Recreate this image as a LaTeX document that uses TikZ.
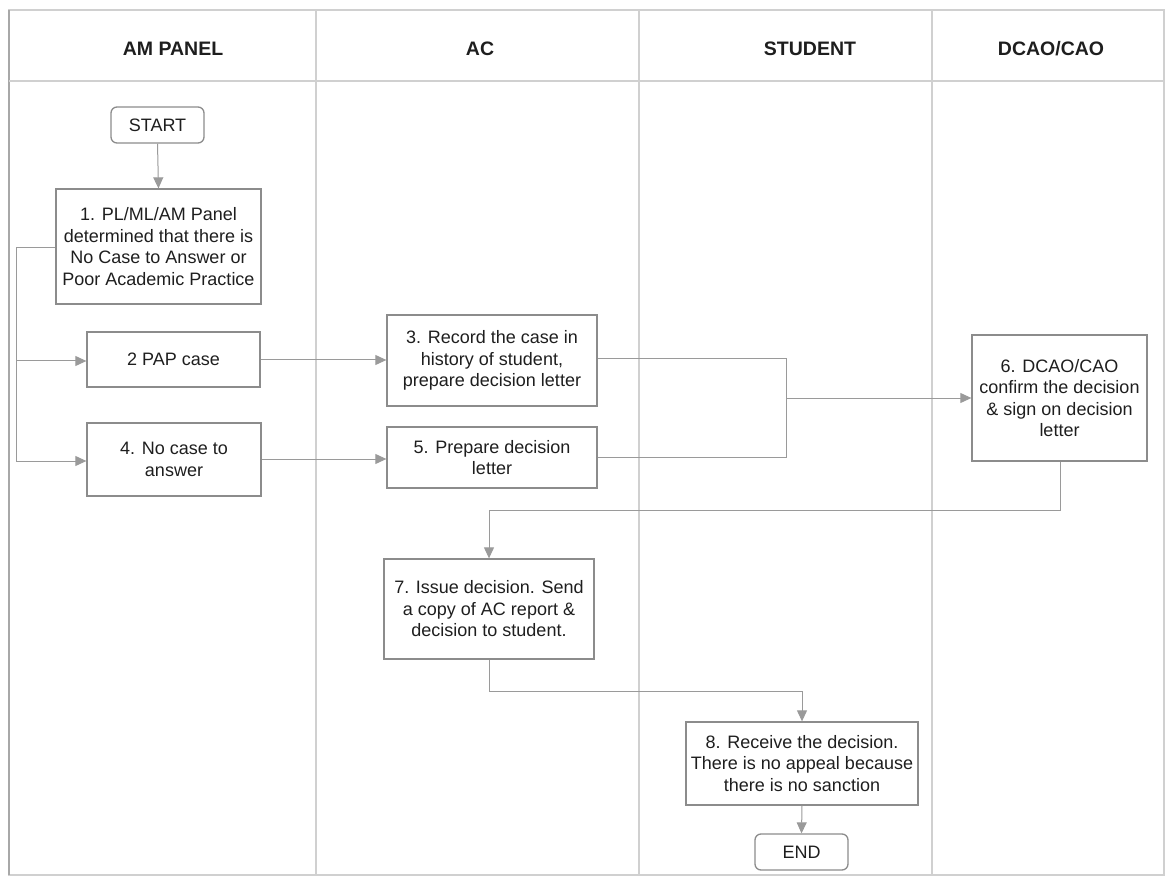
\documentclass[tikz,border=0pt]{standalone}
\usepackage{fontspec}
\setmainfont{Liberation Sans}
\usetikzlibrary{arrows.meta}
\definecolor{boxline}{HTML}{8C8C8C}
\definecolor{conn}{HTML}{9A9A9A}
\definecolor{lane}{HTML}{D0D0D0}
\definecolor{frame}{HTML}{A8A8A8}
\definecolor{ink}{HTML}{1E1E1E}
\tikzset{
  every node/.style={text=ink},
  procbox/.style={draw=boxline, line width=1.3pt, rectangle, inner sep=0pt, align=center,
    font=\fontsize{18}{21.5}\selectfont},
  termbox/.style={procbox, rounded corners=6pt},
  hdr/.style={font=\fontsize{19.5}{22}\selectfont\bfseries},
  flow/.style={draw=conn, line width=1pt, -{Triangle[length=11pt,width=10pt]}},
  plain/.style={draw=conn, line width=1pt},
  lanestyle/.style={draw=lane, line width=1.2pt}
}
\begin{document}
\begin{tikzpicture}[x=1pt,y=-1pt]
\useasboundingbox (0,0) rectangle (1165,877);
% swimlane frame
\draw[lanestyle] (9,10) rectangle (1164,875);
\draw[draw=frame, line width=1.5pt] (9,10) -- (9,875);
\draw[lanestyle] (9,81) -- (1164,81);
\draw[lanestyle] (316,10) -- (316,875);
\draw[lanestyle] (639,10) -- (639,875);
\draw[lanestyle] (932,10) -- (932,875);
% headers
\node[hdr] (h1) at (173,49) {AM PANEL};
\node[hdr] (h2) at (480,49) {AC};
\node[hdr] (h3) at (810,49) {STUDENT};
\node[hdr] (h4) at (1051,49) {DCAO/CAO};
% nodes
\node[termbox, minimum width=93pt, minimum height=36pt] (start) at (157.5,125) {START};
\node[procbox, minimum width=205pt, minimum height=115pt] (n1) at (158.5,246.5)
  {1. PL/ML/AM Panel\\determined that there is\\No Case to Answer or\\Poor Academic Practice};
\node[procbox, minimum width=173pt, minimum height=55pt] (n2) at (173.5,359.5) {2 PAP case};
\node[procbox, minimum width=174pt, minimum height=73pt] (n4) at (174,459.5) {4. No case to\\answer};
\node[procbox, minimum width=210pt, minimum height=91pt] (n3) at (492,360.5)
  {3. Record the case in\\history of student,\\prepare decision letter};
\node[procbox, minimum width=210pt, minimum height=61pt] (n5) at (492,457.5) {5. Prepare decision\\letter};
\node[procbox, minimum width=175pt, minimum height=126pt] (n6) at (1059.5,398)
  {6. DCAO/CAO\\confirm the decision\\\& sign on decision\\letter};
\node[procbox, minimum width=210pt, minimum height=100pt] (n7) at (489,609)
  {7. Issue decision. Send\\a copy of AC report \&\\decision to student.};
\node[procbox, minimum width=232pt, minimum height=83pt] (n8) at (802,763.5)
  {8. Receive the decision.\\There is no appeal because\\there is no sanction};
\node[termbox, minimum width=93pt, minimum height=36pt] (end) at (801.5,852) {END};
% junction coordinates
\coordinate (busTop) at (16,248);
\coordinate (busMid) at (16,361);
\coordinate (busBot) at (16,461);
\coordinate (j3) at (786,359);
\coordinate (j5) at (786,457);
\coordinate (jm) at (786,398);
\coordinate (k6) at (1060,510);
\coordinate (k7) at (489,510);
\coordinate (m7) at (489,691);
\coordinate (m8) at (802,691);
% connectors
\draw[flow] (start.south) -- (n1.north);
\draw[plain] (n1.west |- busTop) -- (busTop) -- (busBot);
\draw[flow] (busMid) -- (n2.west |- busMid);
\draw[flow] (busBot) -- (n4.west |- busBot);
\draw[flow] (n2.east |- 0,360) -- (n3.west |- 0,360);
\draw[flow] (n4.east |- 0,459) -- (n5.west |- 0,459);
\draw[plain] (n3.east |- j3) -- (j3) -- (j5) -- (n5.east |- j5);
\draw[flow] (jm) -- (n6.west |- jm);
\draw[flow] (n6.south -| k6) -- (k6) -- (k7) -- (n7.north);
\draw[flow] (n7.south) -- (m7) -- (m8) -- (n8.north);
\draw[flow] (n8.south) -- (end.north);
\end{tikzpicture}
\end{document}
